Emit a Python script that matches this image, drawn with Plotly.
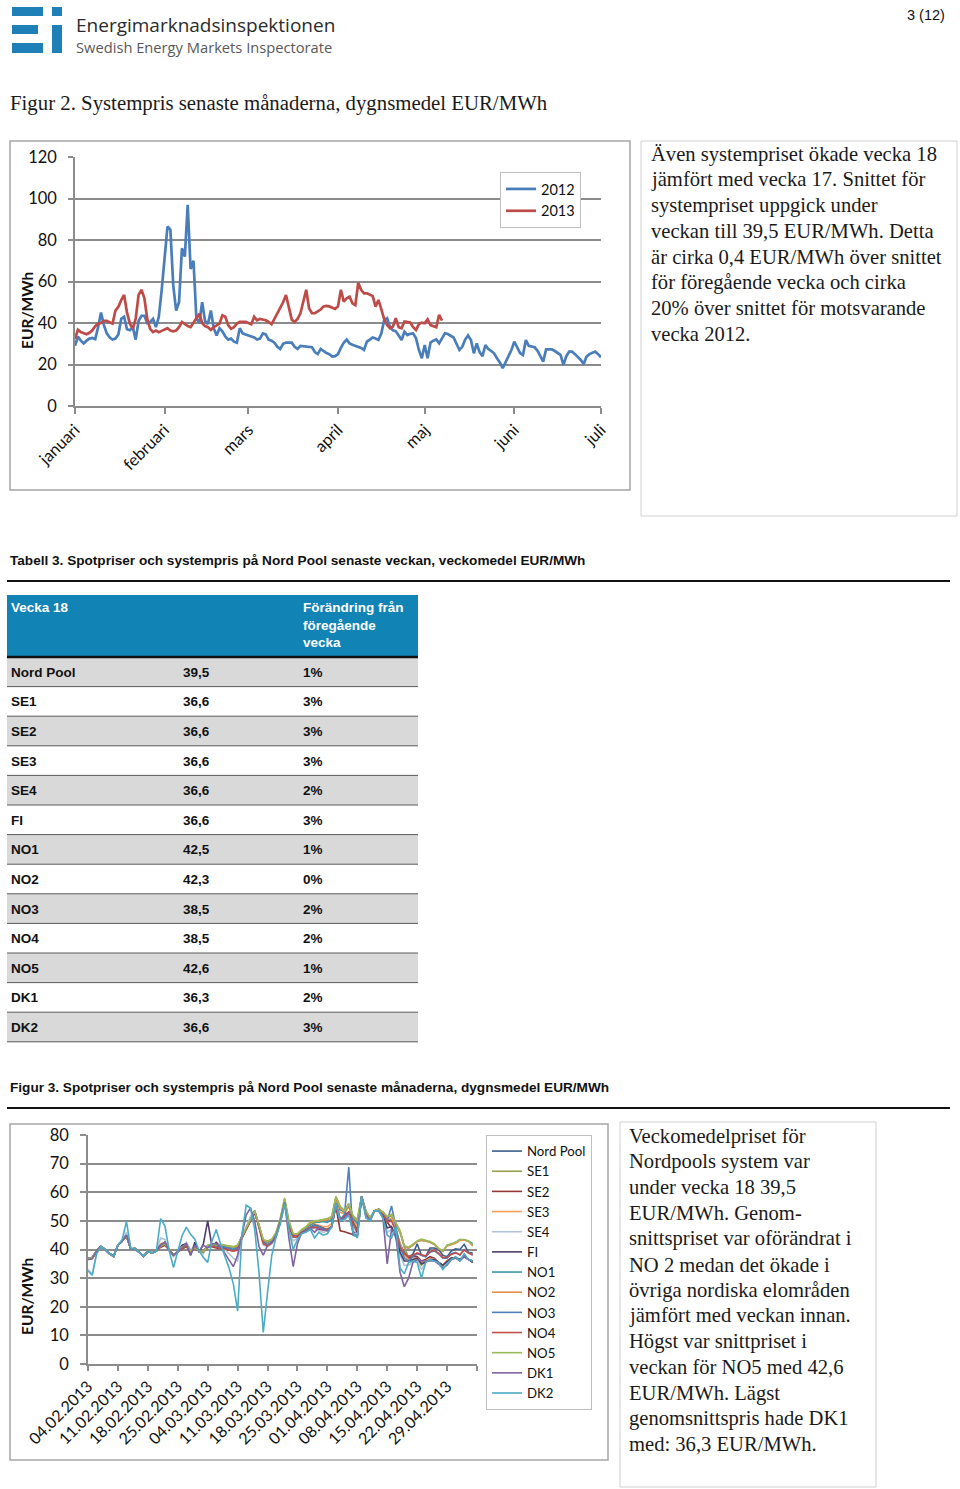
import plotly.graph_objects as go

W, H = 960, 1489


def px(x):
    return x / W


def py(y):
    return 1 - y / H


# ---------------- Figur 2 data ----------------
MONTH_LABELS = ["januari", "februari", "mars", "april", "maj", "juni", "juli"]
MONTH_TICK_DAYS = [0, 31, 60, 91, 121, 152, 182]

SYS_2012 = [
    29.0, 33.5, 31.5, 30.2, 31.5, 32.5, 32.8, 32.2, 38.0, 45.0,
    39.0, 35.0, 33.0, 32.0, 32.5, 34.5, 42.0, 43.0, 37.0, 36.5,
    38.0, 32.0, 41.0, 43.5, 43.5, 40.0, 40.5, 42.0, 38.0, 43.0,
    56.0, 72.0, 86.5, 85.0, 58.0, 46.0, 50.0, 76.0, 72.0, 97.0,
    66.0, 70.0, 42.0, 40.0, 50.0, 41.0, 39.5, 46.0, 37.5, 34.0,
    37.5, 36.0, 33.5, 32.0, 32.5, 31.0, 30.5, 37.5, 35.0, 34.5,
    34.0, 33.5, 33.0, 32.0, 32.5, 35.0, 34.5, 32.0, 31.5, 30.5,
    28.5, 27.5, 30.0, 30.5, 30.5, 30.5, 28.5, 27.5, 29.0, 28.8,
    28.5, 28.3, 28.3, 26.0, 25.0, 27.5, 26.5, 25.5, 25.0, 23.8,
    24.0, 25.0, 28.0, 30.5, 32.0, 30.2, 29.5, 29.0, 28.5, 28.0,
    27.0, 31.0, 32.0, 33.0, 32.5, 31.8, 35.0, 41.5, 42.3, 38.0,
    36.5, 36.0, 34.0, 31.8, 35.8, 34.2, 34.8, 35.0, 32.6, 27.0,
    23.0, 29.4, 23.0, 30.6, 31.5, 32.1, 30.2, 33.0, 35.0, 34.7,
    34.0, 33.0, 30.0, 27.0, 28.5, 32.0, 34.0, 31.8, 25.4, 30.2,
    26.0, 24.0, 29.4, 27.5, 26.5, 25.4, 23.0, 21.0, 18.2, 21.0,
    24.5, 27.0, 31.0, 28.3, 25.5, 24.6, 31.8, 29.0, 28.8, 28.3,
    26.7, 24.0, 21.4, 27.3, 27.3, 27.3, 26.5, 25.5, 24.6, 19.8,
    24.0, 26.2, 26.2, 25.0, 23.8, 22.2, 20.2, 23.8, 25.0, 25.8,
    26.2, 25.0, 23.5,
]

SYS_2013 = [
    32.4, 36.7, 35.6, 35.0, 34.6, 35.3, 36.5, 38.5, 39.7, 40.0,
    41.0, 41.0, 40.3, 39.7, 46.0, 47.8, 51.0, 53.5, 45.0, 39.7,
    37.2, 42.0, 53.5, 56.0, 52.0, 42.0, 37.2, 35.6, 36.4, 35.6,
    36.2, 37.0, 37.5, 36.4, 36.0, 36.4, 38.0, 40.5, 39.4, 38.5,
    38.0, 40.0, 42.0, 44.5, 40.0, 38.5, 38.0, 36.7, 38.0, 39.0,
    39.7, 43.7, 43.0, 39.0, 37.2, 38.0, 39.7, 40.5, 40.5, 40.5,
    40.0, 39.4, 43.0, 41.3, 42.0, 41.8, 41.3, 40.5, 39.4, 42.0,
    44.5, 47.5, 50.0, 53.5, 47.8, 41.6, 40.5, 42.0, 44.7, 50.0,
    56.0, 47.0, 44.7, 44.7, 45.4, 46.5, 48.0, 48.2, 48.0, 47.3,
    46.8, 48.0, 56.0, 50.3, 51.9, 52.7, 49.5, 48.6, 59.4, 56.0,
    54.3, 54.3, 53.5, 53.0, 47.9, 51.1, 46.6, 41.8, 39.0, 37.5,
    38.3, 42.3, 38.0, 37.5, 40.7, 40.5, 40.2, 38.0, 36.6, 39.5,
    40.2, 39.9, 41.8, 39.0, 38.3, 38.0, 43.9, 41.2,
]

# ---------------- Tabell 3 data ----------------
TABLE_HEAD_1 = "Vecka 18"
TABLE_HEAD_3 = "Förändring från<br>föregående<br>vecka"
TABLE_AREAS = ["Nord Pool", "SE1", "SE2", "SE3", "SE4", "FI", "NO1", "NO2",
               "NO3", "NO4", "NO5", "DK1", "DK2"]
TABLE_PRICE = ["39,5", "36,6", "36,6", "36,6", "36,6", "36,6", "42,5", "42,3",
               "38,5", "38,5", "42,6", "36,3", "36,6"]
TABLE_CHANGE = ["1%", "3%", "3%", "3%", "2%", "3%", "1%", "0%", "2%", "2%",
                "1%", "2%", "3%"]

# ---------------- Figur 3 data (04.02.2013 - 05.05.2013) ----------------
DATE_LABELS = ["04.02.2013", "11.02.2013", "18.02.2013", "25.02.2013",
               "04.03.2013", "11.03.2013", "18.03.2013", "25.03.2013",
               "01.04.2013", "08.04.2013", "15.04.2013", "22.04.2013",
               "29.04.2013"]

NORD_POOL = [
    36.8, 37.2, 39.5, 41.0, 40.0, 38.6, 37.6,
    41.5, 43.0, 44.8, 40.2, 40.3, 39.0, 37.6,
    39.3, 38.8, 39.5, 41.5, 42.5, 39.8, 38.0,
    39.2, 40.8, 41.8, 39.2, 40.6, 39.6, 39.2,
    41.3, 41.6, 41.0, 41.2, 40.8, 40.3, 39.8,
    40.5, 44.5, 47.0, 50.0, 53.5, 48.0, 42.5,
    41.5, 42.5, 45.0, 50.0, 56.5, 48.5, 44.8,
    44.8, 46.0, 46.8, 47.8, 48.5, 48.0, 47.3,
    46.8, 48.0, 56.0, 50.5, 52.0, 53.0, 49.5,
    47.0, 58.5, 53.0, 50.5, 53.5, 54.0, 53.0,
    50.0, 50.5, 47.0, 42.0, 39.0, 37.5, 38.3,
    42.0, 38.0, 37.5, 40.5, 40.5, 40.0, 38.0,
    37.5, 39.5, 40.2, 40.0, 41.8, 39.0, 38.8,
]
SE1 = [
    36.5, 37.0, 39.5, 41.0, 40.0, 38.6, 37.6,
    41.5, 43.0, 45.0, 40.2, 40.3, 39.0, 37.6,
    39.3, 38.8, 39.5, 41.0, 42.0, 39.8, 38.0,
    39.2, 40.5, 41.5, 39.5, 40.6, 39.6, 39.5,
    41.3, 41.8, 41.5, 41.6, 41.2, 41.0, 40.8,
    41.5, 44.5, 47.0, 50.5, 53.5, 48.5, 43.0,
    42.8, 43.5, 45.5, 50.5, 57.0, 49.5, 45.0,
    45.0, 46.5, 47.5, 49.5, 50.0, 50.0, 50.2,
    50.5, 51.0, 58.5, 55.0, 53.5, 56.0, 51.5,
    50.0, 58.5, 53.0, 50.5, 53.5, 54.0, 53.0,
    51.5, 52.0, 49.5, 46.5, 41.0, 37.0, 36.0,
    36.5, 34.5, 36.0, 36.5, 36.2, 35.5, 34.0,
    36.0, 36.8, 37.0, 36.5, 37.5, 36.5, 36.0,
]
SE2 = [
    36.5, 36.8, 39.3, 41.0, 40.0, 38.6, 37.6,
    41.5, 43.0, 44.8, 40.2, 40.3, 39.0, 37.6,
    39.3, 38.8, 39.5, 40.8, 41.5, 39.8, 38.0,
    39.2, 40.2, 41.0, 39.2, 40.2, 39.6, 39.2,
    41.0, 41.0, 40.5, 40.2, 40.0, 39.6, 39.5,
    39.8, 44.0, 47.0, 50.0, 53.0, 48.0, 42.5,
    41.5, 42.5, 44.5, 49.5, 56.0, 48.5, 44.5,
    44.5, 46.0, 46.5, 47.5, 47.5, 47.0, 46.8,
    47.0, 48.0, 55.0, 46.5, 46.2, 45.8, 45.2,
    47.0, 58.0, 53.0, 50.5, 53.5, 54.0, 52.5,
    49.5, 47.5, 45.0, 40.0, 38.5, 37.0, 37.5,
    37.5, 36.0, 36.5, 37.5, 37.0, 35.5, 34.5,
    36.0, 37.0, 37.2, 36.5, 37.5, 36.5, 35.5,
]
SE3 = [
    36.8, 37.2, 39.5, 41.0, 40.0, 38.6, 37.6,
    41.5, 43.0, 45.0, 40.2, 40.3, 39.0, 37.6,
    39.3, 38.8, 39.5, 42.0, 42.5, 40.0, 38.0,
    39.2, 40.5, 41.5, 39.5, 40.6, 39.6, 39.2,
    41.3, 41.5, 41.0, 41.0, 40.6, 40.0, 39.6,
    40.0, 44.5, 47.0, 50.0, 53.0, 48.5, 42.8,
    42.0, 43.0, 45.0, 50.0, 56.5, 49.0, 45.0,
    45.0, 46.2, 47.0, 48.5, 49.0, 48.5, 48.0,
    48.0, 49.0, 57.5, 53.0, 52.5, 55.0, 50.0,
    48.0, 58.5, 53.0, 50.5, 53.5, 54.0, 53.0,
    50.5, 51.0, 47.0, 42.0, 38.0, 36.5, 36.5,
    37.0, 35.5, 36.0, 36.8, 36.5, 35.2, 34.5,
    36.0, 36.8, 37.0, 36.5, 37.5, 36.5, 36.0,
]
SE4 = [
    33.0, 31.5, 38.5, 41.0, 40.0, 38.6, 37.6,
    41.5, 43.0, 46.0, 40.2, 40.3, 39.0, 37.6,
    39.3, 38.8, 39.5, 44.0, 43.5, 39.5, 37.5,
    39.2, 41.0, 42.5, 40.0, 40.6, 39.6, 38.5,
    41.5, 42.0, 41.0, 40.5, 40.0, 38.5, 37.0,
    36.0, 44.0, 48.0, 51.5, 53.5, 47.5, 41.5,
    41.0, 42.0, 44.5, 49.5, 56.0, 47.0, 43.0,
    44.0, 45.5, 46.5, 47.5, 47.5, 46.5, 46.0,
    46.5, 47.5, 56.0, 51.0, 50.0, 52.5, 48.0,
    45.5, 58.0, 53.0, 50.5, 53.5, 54.0, 52.0,
    46.0, 47.0, 44.0, 38.0, 34.5, 34.5, 35.5,
    36.5, 33.0, 35.5, 36.5, 36.5, 35.0, 33.5,
    35.5, 36.5, 37.5, 36.5, 37.8, 36.5, 36.0,
]
FI = [
    36.8, 37.2, 39.5, 41.0, 40.0, 38.6, 37.6,
    41.5, 43.0, 44.8, 40.2, 40.3, 39.0, 37.6,
    39.3, 38.8, 39.5, 41.5, 42.5, 39.8, 38.0,
    39.2, 41.5, 42.0, 38.0, 42.5, 39.0, 42.0,
    50.0, 41.0, 42.5, 41.0, 40.5, 40.3, 39.8,
    40.5, 44.0, 47.0, 50.0, 53.0, 48.0, 42.5,
    41.5, 42.5, 45.0, 50.0, 57.5, 48.5, 44.5,
    44.5, 46.0, 46.8, 47.8, 48.5, 48.0, 47.3,
    46.8, 48.0, 56.0, 50.5, 52.0, 53.0, 49.5,
    46.0, 58.5, 53.0, 50.5, 53.5, 54.0, 52.0,
    47.5, 48.0, 44.5, 39.0, 36.0, 36.0, 36.5,
    37.0, 35.0, 35.5, 36.5, 36.5, 35.5, 34.5,
    35.8, 37.0, 37.2, 36.5, 37.8, 36.5, 35.5,
]
NO1 = [
    36.6, 37.0, 39.4, 41.0, 40.0, 38.6, 37.6,
    41.5, 43.0, 45.0, 40.2, 40.3, 39.0, 37.6,
    39.3, 38.8, 39.5, 41.3, 42.2, 39.8, 38.0,
    39.2, 40.8, 41.8, 39.3, 40.6, 39.6, 39.3,
    41.3, 41.7, 41.3, 41.5, 41.2, 40.8, 40.5,
    41.0, 44.5, 47.0, 50.3, 53.5, 48.3, 43.0,
    42.5, 43.2, 45.5, 50.5, 57.0, 49.5, 45.0,
    45.2, 46.5, 47.5, 48.8, 49.5, 49.5, 49.8,
    49.5, 50.5, 58.0, 54.0, 53.0, 55.5, 51.0,
    49.0, 58.5, 53.5, 51.0, 53.5, 54.0, 53.0,
    51.0, 52.0, 49.0, 46.0, 41.0, 40.5, 41.5,
    42.8, 43.2, 43.0, 42.5, 41.8, 40.3, 39.3,
    41.5, 41.8, 42.5, 43.5, 43.3, 43.0, 42.0,
]
NO2 = [
    36.7, 37.1, 39.5, 41.0, 40.0, 38.6, 37.6,
    41.5, 43.0, 44.9, 40.2, 40.3, 39.0, 37.6,
    39.3, 38.8, 39.5, 41.2, 42.2, 39.8, 38.0,
    39.2, 40.8, 41.8, 39.4, 40.6, 39.6, 39.2,
    41.3, 41.8, 41.5, 41.7, 41.4, 41.0, 40.8,
    41.2, 44.5, 47.0, 50.4, 53.5, 48.4, 43.2,
    42.8, 43.4, 45.8, 50.8, 57.5, 49.8, 45.2,
    45.3, 46.8, 47.8, 49.2, 49.8, 50.0, 50.2,
    50.5, 51.2, 58.2, 54.5, 53.2, 55.8, 51.5,
    50.0, 58.5, 53.5, 51.0, 53.5, 54.0, 53.0,
    51.0, 52.0, 49.0, 46.0, 41.0, 40.5, 41.5,
    42.8, 43.2, 43.0, 42.5, 41.8, 40.3, 39.3,
    41.2, 41.8, 42.2, 43.2, 43.3, 42.8, 41.2,
]
NO3 = [
    36.8, 37.2, 39.5, 41.0, 40.0, 38.6, 37.6,
    41.5, 43.0, 44.8, 40.2, 40.3, 39.0, 37.6,
    39.3, 38.8, 39.5, 41.5, 42.5, 39.8, 38.0,
    39.2, 40.8, 41.8, 39.2, 40.6, 39.6, 39.2,
    41.3, 41.6, 41.0, 41.2, 40.8, 40.3, 39.8,
    40.5, 44.5, 47.0, 50.0, 53.5, 48.0, 42.5,
    41.5, 42.5, 45.0, 50.0, 56.5, 48.5, 44.8,
    44.8, 46.0, 46.8, 47.8, 48.5, 48.0, 47.3,
    46.8, 48.0, 56.0, 50.5, 52.0, 68.8, 45.0,
    44.5, 58.5, 53.0, 50.5, 53.5, 54.0, 52.5,
    50.0, 55.2, 47.5, 41.0, 37.0, 36.0, 37.5,
    38.5, 38.0, 37.5, 39.0, 39.5, 38.5, 37.0,
    37.0, 38.5, 39.0, 38.0, 40.0, 39.0, 38.0,
]
NO4 = [
    36.6, 37.0, 39.4, 41.0, 40.0, 38.6, 37.6,
    41.5, 43.0, 44.8, 40.2, 40.3, 39.0, 37.6,
    39.3, 38.8, 39.5, 41.0, 41.8, 39.8, 38.0,
    39.2, 40.4, 41.3, 39.2, 40.4, 39.6, 39.2,
    41.0, 41.2, 40.8, 40.6, 40.2, 39.8, 39.5,
    39.8, 44.0, 47.0, 50.0, 53.2, 48.0, 42.0,
    41.2, 42.2, 44.5, 49.8, 56.0, 48.5, 44.5,
    44.5, 46.0, 46.5, 47.6, 47.8, 47.5, 47.0,
    47.0, 48.0, 55.5, 50.0, 51.5, 53.0, 49.0,
    46.5, 58.0, 53.0, 50.5, 53.5, 54.0, 52.5,
    49.5, 50.0, 46.5, 41.0, 38.5, 37.5, 38.0,
    38.8, 38.2, 37.8, 39.2, 39.8, 38.7, 37.2,
    37.2, 38.3, 38.8, 38.2, 39.8, 38.8, 38.2,
]
NO5 = [
    36.8, 37.2, 39.5, 41.0, 40.0, 38.6, 37.6,
    41.5, 43.0, 44.8, 40.2, 40.3, 39.0, 37.6,
    39.3, 38.8, 39.5, 41.2, 42.0, 39.8, 38.0,
    39.2, 40.8, 41.8, 39.5, 40.6, 39.6, 39.2,
    41.3, 41.8, 41.6, 41.8, 41.5, 41.2, 41.0,
    41.5, 44.5, 47.0, 50.5, 53.5, 48.5, 43.5,
    43.0, 43.5, 46.0, 51.0, 58.0, 50.0, 45.5,
    45.5, 47.0, 48.0, 49.5, 50.0, 50.2, 50.5,
    50.8, 51.5, 58.5, 55.0, 53.5, 56.0, 51.8,
    50.5, 58.5, 53.5, 51.0, 53.5, 54.0, 53.0,
    51.5, 52.3, 49.5, 46.5, 41.3, 40.8, 41.9,
    43.0, 43.6, 43.2, 42.8, 42.0, 40.5, 39.5,
    41.5, 42.0, 42.5, 43.5, 43.5, 43.0, 41.5,
]
DK1 = [
    36.5, 36.8, 39.3, 41.0, 40.0, 38.6, 37.6,
    41.5, 43.0, 45.0, 40.2, 40.3, 39.0, 37.6,
    39.3, 38.8, 39.5, 41.5, 42.5, 39.8, 38.0,
    39.2, 40.5, 42.0, 38.0, 41.5, 39.5, 41.5,
    40.5, 42.0, 42.0, 41.0, 38.5, 36.0, 34.0,
    38.0, 45.0, 52.0, 54.5, 50.0, 41.0, 38.0,
    41.5, 42.5, 45.0, 50.0, 56.5, 44.0, 34.0,
    42.0, 46.0, 46.5, 47.5, 46.0, 47.5, 47.0,
    46.5, 48.0, 56.0, 50.0, 51.0, 52.5, 46.0,
    44.5, 58.5, 52.0, 50.0, 53.5, 53.5, 51.0,
    35.0, 47.0, 45.0, 32.0, 27.0, 30.0, 35.5,
    36.5, 36.0, 36.0, 36.0, 36.0, 35.0, 33.5,
    34.5, 36.5, 37.0, 36.0, 37.5, 36.5, 36.0,
]
DK2 = [
    32.5, 31.0, 38.5, 41.0, 40.0, 38.6, 37.6,
    41.5, 43.5, 49.8, 40.5, 40.3, 39.0, 37.6,
    39.3, 38.8, 39.5, 50.8, 48.2, 39.5, 33.7,
    39.0, 44.8, 47.8, 45.3, 43.6, 39.5, 37.2,
    35.5, 43.0, 47.0, 41.9, 37.5, 33.5, 28.0,
    18.5, 45.0, 55.5, 54.5, 47.0, 32.0, 11.0,
    25.0, 38.0, 44.5, 49.0, 56.0, 47.0, 40.0,
    43.5, 45.5, 46.0, 47.0, 44.0, 46.0, 45.0,
    45.5, 48.0, 56.0, 50.0, 50.5, 52.0, 46.0,
    44.0, 58.5, 51.0, 50.0, 53.5, 53.5, 51.0,
    45.0, 44.0, 48.0, 33.5, 31.5, 35.5, 36.0,
    35.5, 30.0, 35.5, 36.5, 36.0, 35.5, 33.0,
    35.0, 36.5, 37.5, 36.0, 38.5, 36.5, 36.0,
]

AREA_SERIES = [
    ("Nord Pool", NORD_POOL, "#3B5E8E"),
    ("SE1", SE1, "#98A04F"),
    ("SE2", SE2, "#953735"),
    ("SE3", SE3, "#F6A15A"),
    ("SE4", SE4, "#B4C2D6"),
    ("FI", FI, "#4E3D6B"),
    ("NO1", NO1, "#3F96A8"),
    ("NO2", NO2, "#E6914A"),
    ("NO3", NO3, "#4F81BD"),
    ("NO4", NO4, "#C0504D"),
    ("NO5", NO5, "#9BBB59"),
    ("DK1", DK1, "#7F63A1"),
    ("DK2", DK2, "#4BACC6"),
]

# ---------------- Texts ----------------
TEXT_BOX_1 = [
    "Även systempriset ökade vecka 18",
    "jämfört med vecka 17. Snittet för",
    "systempriset uppgick under",
    "veckan till 39,5 EUR/MWh. Detta",
    "är cirka 0,4 EUR/MWh över snittet",
    "för föregående vecka och cirka",
    "20% över snittet för motsvarande",
    "vecka 2012.",
]
TEXT_BOX_2 = [
    "Veckomedelpriset för",
    "Nordpools system var",
    "under vecka 18 39,5",
    "EUR/MWh. Genom-",
    "snittspriset var oförändrat i",
    "NO 2 medan det ökade i",
    "övriga nordiska elområden",
    "jämfört med veckan innan.",
    "Högst var snittpriset i",
    "veckan för NO5 med 42,6",
    "EUR/MWh. Lägst",
    "genomsnittspris hade DK1",
    "med: 36,3 EUR/MWh.",
]

CHART_FONT = "Lato, Calibri, sans-serif"
SERIF = "Liberation Serif, serif"
SANS_B = "Liberation Sans, Arial, sans-serif"

fig = go.Figure()

# Figur 2 traces
fig.add_trace(go.Scatter(x=list(range(len(SYS_2012))), y=SYS_2012, mode="lines",
                         name="2012", line=dict(color="#4A7EBB", width=2.7),
                         xaxis="x", yaxis="y", legend="legend"))
fig.add_trace(go.Scatter(x=list(range(len(SYS_2013))), y=SYS_2013, mode="lines",
                         name="2013", line=dict(color="#BE4B48", width=2.7),
                         xaxis="x", yaxis="y", legend="legend"))

# Figur 3 traces
for name, vals, color in AREA_SERIES:
    fig.add_trace(go.Scatter(x=list(range(len(vals))), y=vals, mode="lines",
                             name=name, line=dict(color=color, width=1.6),
                             xaxis="x2", yaxis="y2", legend="legend2"))

GRID = "#8C8C8C"
tickfont = dict(family=CHART_FONT, size=16.5, color="#111111")

shapes = []
annotations = []


def rect(x0, y0, x1, y1, line_color=None, fill=None, lw=1):
    shapes.append(dict(type="rect", xref="paper", yref="paper",
                       x0=px(x0), x1=px(x1), y0=py(y1), y1=py(y0),
                       line=dict(color=line_color or "rgba(0,0,0,0)", width=lw if line_color else 0),
                       fillcolor=fill or "rgba(0,0,0,0)", layer="below"))


def hline(x0, x1, y, color, lw):
    shapes.append(dict(type="line", xref="paper", yref="paper",
                       x0=px(x0), x1=px(x1), y0=py(y), y1=py(y),
                       line=dict(color=color, width=lw), layer="above"))


def text(x, y, s, size, family, color="#111111", xanchor="left", yanchor="middle", **kw):
    annotations.append(dict(xref="paper", yref="paper", x=px(x), y=py(y), text=s,
                            showarrow=False, xanchor=xanchor, yanchor=yanchor, align="left",
                            font=dict(family=family, size=size, color=color), **kw))


# Logo
LOGO = "#1F80B8"
rect(12, 7, 43, 16, fill=LOGO)
rect(52, 7, 62, 16, fill=LOGO)
rect(12, 25, 38, 34, fill=LOGO)
rect(12, 43, 43, 53, fill=LOGO)
rect(52, 25, 62, 53, fill=LOGO)
text(74, 25, "Energimarknadsinspektionen", 19, "Open Sans, sans-serif", "#2b2b2b")
text(74, 47, "Swedish Energy Markets Inspectorate", 14.7, "Open Sans, sans-serif", "#5a5a5a")
text(947, 15, "3 (12)", 14.5, "Liberation Sans, sans-serif", "#111111", xanchor="right")

BODY_SIZE = 20.6
LINE_STEP = 25.7

# Figur 2 caption and frames
text(8, 103, "Figur 2. Systempris senaste månaderna, dygnsmedel EUR/MWh", 20.8, SERIF, "#1a1a1a")
rect(10, 141, 630, 490, line_color="#A6A6A6", lw=1.5)
rect(641, 141, 957, 516, line_color="#D0D0D0", lw=1)
for i, line in enumerate(TEXT_BOX_1):
    text(649, 154 + i * LINE_STEP, line, BODY_SIZE, SERIF, "#1a1a1a")
text(27, 311, "<b>EUR/MWh</b>", 15.5, CHART_FONT, "#111111", xanchor="center", textangle=-90)

# Tabell 3
text(8, 560, "<b>Tabell 3. Spotpriser och systempris på Nord Pool senaste veckan, veckomedel EUR/MWh</b>",
     13.6, SANS_B, "#111111")
hline(7, 950, 581, "#111111", 2)
TX0, TX1 = 7, 418
HEAD_Y0, HEAD_Y1 = 595, 657
ROW_H = 29.6
COL_X = [9, 181, 301]
rect(TX0, HEAD_Y0, TX1, HEAD_Y1, fill="#1283B5")
text(COL_X[0], 607, "<b>" + TABLE_HEAD_1 + "</b>", 13.5, SANS_B, "#FFFFFF")
text(COL_X[2], 598, "<b>" + TABLE_HEAD_3 + "</b>", 13.5, SANS_B, "#FFFFFF", yanchor="top")
for i, (area, price, chg) in enumerate(zip(TABLE_AREAS, TABLE_PRICE, TABLE_CHANGE)):
    y0 = HEAD_Y1 + i * ROW_H
    y1 = y0 + ROW_H
    if i % 2 == 0:
        rect(TX0, y0, TX1, y1, fill="#D9D9D9")
    hline(TX0, TX1, y1, "#5A5A5A", 1)
    yc = (y0 + y1) / 2 + 0.5
    for cx, val in zip(COL_X, (area, price, chg)):
        text(cx, yc, "<b>" + val + "</b>", 13.5, SANS_B, "#111111")
hline(TX0, TX1, HEAD_Y1, "#111111", 2.5)

# Figur 3 caption and frames
text(8, 1087, "<b>Figur 3. Spotpriser och systempris på Nord Pool senaste månaderna, dygnsmedel EUR/MWh</b>",
     13.6, SANS_B, "#111111")
hline(7, 950, 1108, "#111111", 2)
rect(10, 1124, 608, 1460, line_color="#A6A6A6", lw=1.5)
rect(620, 1122, 876, 1487, line_color="#D0D0D0", lw=1)
for i, line in enumerate(TEXT_BOX_2):
    text(627, 1136 + i * LINE_STEP, line, BODY_SIZE, SERIF, "#1a1a1a")
text(27, 1297, "<b>EUR/MWh</b>", 15.5, CHART_FONT, "#111111", xanchor="center", textangle=-90)

fig.update_layout(
    width=W, height=H, autosize=False,
    margin=dict(l=0, r=0, t=0, b=0, pad=0, autoexpand=False),
    paper_bgcolor="white", plot_bgcolor="white",
    showlegend=True,
    xaxis=dict(domain=[px(75), px(601)], range=[0, 182], tickmode="array",
               tickvals=MONTH_TICK_DAYS, ticktext=MONTH_LABELS, tickangle=-45,
               showgrid=False, showline=True, linecolor=GRID, linewidth=1.5,
               ticks="outside", ticklen=6, tickcolor=GRID, tickwidth=1.5,
               tickfont=tickfont, zeroline=False, anchor="y", fixedrange=True,
               ticklabelstandoff=0, automargin=False),
    yaxis=dict(domain=[py(406), py(157)], range=[0, 120], dtick=20,
               showgrid=True, gridcolor=GRID, gridwidth=1.5, showline=True,
               linecolor=GRID, linewidth=1.5, ticks="outside", ticklen=5,
               tickcolor=GRID, tickwidth=1.5, tickfont=tickfont, zeroline=False,
               anchor="x", fixedrange=True, ticklabelstandoff=8, automargin=False),
    xaxis2=dict(domain=[px(88), px(477)], range=[0, 91], tickmode="array",
                tickvals=list(range(0, 92, 7)), ticktext=DATE_LABELS + [""],
                tickangle=-45, showgrid=False, showline=True, linecolor=GRID,
                linewidth=1.5, ticks="outside", ticklen=5, tickcolor=GRID,
                tickwidth=1.5, tickfont=dict(family=CHART_FONT, size=16, color="#111111"),
                zeroline=False, anchor="y2", fixedrange=True, ticklabelstandoff=0,
                automargin=False),
    yaxis2=dict(domain=[py(1364), py(1135)], range=[0, 80], dtick=10,
                showgrid=True, gridcolor=GRID, gridwidth=1.5, showline=True,
                linecolor=GRID, linewidth=1.5, ticks="outside", ticklen=6,
                tickcolor=GRID, tickwidth=1.5,
                tickfont=dict(family=CHART_FONT, size=16.5, color="#111111"),
                zeroline=False, anchor="x2", fixedrange=True, ticklabelstandoff=8,
                automargin=False),
    legend=dict(x=px(500), y=py(172), xanchor="left", yanchor="top",
                bordercolor="#BFBFBF", borderwidth=1, bgcolor="white",
                font=dict(family=CHART_FONT, size=14.5, color="#111111"),
                tracegroupgap=0),
    legend2=dict(x=px(486), y=py(1135), xanchor="left", yanchor="top",
                 bordercolor="#BFBFBF", borderwidth=1, bgcolor="white",
                 font=dict(family=CHART_FONT, size=13.2, color="#111111"),
                 tracegroupgap=0),
    shapes=shapes,
    annotations=annotations,
)

fig.write_html("out.html", config={"displayModeBar": False},
               post_script="document.body.style.margin='0px';")
